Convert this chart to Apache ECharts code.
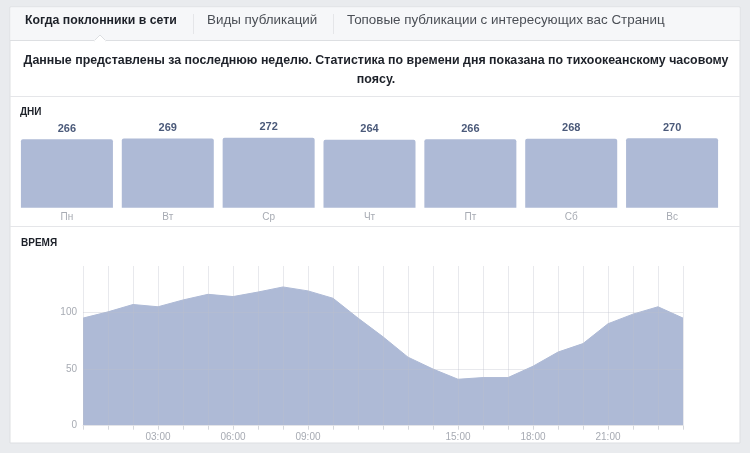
<!DOCTYPE html>
<html>
<head>
<meta charset="utf-8">
<script src="https://cdn.jsdelivr.net/npm/echarts@6/dist/echarts.min.js"></script>
<style>
html,body{margin:0;padding:0;background:#e9ebee;}
#c{width:750px;height:453px;}
</style>
</head>
<body>
<div id="c"></div>
<script>
// ---- data ----
var dayCategories = ['Пн', 'Вт', 'Ср', 'Чт', 'Пт', 'Сб', 'Вс'];
var dayValues = [266, 269, 272, 264, 266, 268, 270];

var hourCategories = ['00','01','02','03','04','05','06','07','08','09','10','11','12',
                      '13','14','15','16','17','18','19','20','21','22','23','24'];
var hourValues = [95, 100.5, 107, 105, 111, 116, 114, 118, 122.5, 119, 112.5, 95, 78.5,
                  60.5, 50, 41, 42.5, 42.5, 52.5, 65, 72.5, 90, 98.5, 105, 95];
var hourTickLabels = ['', '', '', '03:00', '', '', '06:00', '', '', '09:00', '', '', '',
                      '', '', '15:00', '', '', '18:00', '', '', '21:00', '', '', ''];
var yTickLabels = ['0', '50', '100'];

var tabs = ['Когда поклонники в сети', 'Виды публикаций', 'Топовые публикации с интересующих вас Страниц'];
var subtitle = 'Данные представлены за последнюю неделю. Статистика по времени дня показана по тихоокеанскому часовому\nпоясу.';

var FONT = '"Liberation Sans", Arial, Helvetica, sans-serif';
var BAR_COLOR = '#aebad6';
var GRID_LINE = 'rgba(188,193,204,0.35)';

var chart = echarts.init(document.getElementById('c'));

var option = {
  backgroundColor: '#e9ebee',
  animation: false,
  textStyle: { fontFamily: FONT },
  graphic: [
    // white panel
    { type: 'rect', z: -10, shape: { x: 10, y: 7, width: 730, height: 436 },
      style: { fill: '#ffffff', stroke: '#dddfe2', lineWidth: 1 } },
    // tab bar
    { type: 'rect', z: -9, shape: { x: 10.5, y: 7.5, width: 729, height: 33 },
      style: { fill: '#f6f7f9', stroke: null } },
    { type: 'line', z: -8, shape: { x1: 10, y1: 40.5, x2: 740, y2: 40.5 },
      style: { stroke: '#dddfe2', lineWidth: 1 } },
    // tab pointer
    { type: 'polygon', z: -7, shape: { points: [[94, 41], [100, 35], [106, 41]] },
      style: { fill: '#ffffff', stroke: '#dddfe2', lineWidth: 1 } },
    { type: 'rect', z: -6, shape: { x: 94.5, y: 40, width: 11, height: 2 },
      style: { fill: '#ffffff' } },
    // tab separators
    { type: 'line', z: -8, shape: { x1: 193.5, y1: 14, x2: 193.5, y2: 34 },
      style: { stroke: '#e5e6e9', lineWidth: 1 } },
    { type: 'line', z: -8, shape: { x1: 333.5, y1: 14, x2: 333.5, y2: 34 },
      style: { stroke: '#e5e6e9', lineWidth: 1 } },
    // tab texts
    { type: 'text', left: 25, top: 15,
      style: { text: tabs[0], font: 'bold 12.3px ' + FONT, fill: '#1d2129' } },
    { type: 'text', left: 207, top: 14,
      style: { text: tabs[1], font: '13.4px ' + FONT, fill: '#4b4f56' } },
    { type: 'text', left: 347, top: 14,
      style: { text: tabs[2], font: '13.4px ' + FONT, fill: '#4b4f56' } },
    // subtitle
    { type: 'text', x: 376, y: 51,
      style: { text: subtitle, font: 'bold 12.4px ' + FONT, fill: '#1d2129',
               align: 'center', lineHeight: 19 } },
    // dividers
    { type: 'line', z: -8, shape: { x1: 10, y1: 96.5, x2: 740, y2: 96.5 },
      style: { stroke: '#e5e6e9', lineWidth: 1 } },
    { type: 'line', z: -8, shape: { x1: 10, y1: 226.5, x2: 740, y2: 226.5 },
      style: { stroke: '#e5e6e9', lineWidth: 1 } },
    // section titles
    { type: 'text', left: 20, top: 107,
      style: { text: 'ДНИ', font: 'bold 10px ' + FONT, fill: '#1d2129' } },
    { type: 'text', left: 21, top: 238,
      style: { text: 'ВРЕМЯ', font: 'bold 10px ' + FONT, fill: '#1d2129' } }
  ],
  grid: [
    { left: 16.5, width: 706, top: 137.7, height: 70, containLabel: false },
    { left: 83, width: 600, top: 266, height: 159.7, containLabel: false }
  ],
  xAxis: [
    { type: 'category', gridIndex: 0, data: dayCategories,
      axisLine: { show: false }, axisTick: { show: false },
      axisLabel: { color: '#a7abb3', fontSize: 10, margin: 5, fontFamily: FONT } },
    { type: 'category', gridIndex: 1, data: hourCategories, boundaryGap: false, z: 5,
      axisLine: { show: true, lineStyle: { color: '#e3e4e8', width: 1 } },
      axisTick: { show: true, interval: 0, length: 4, lineStyle: { color: '#d6d8dc' } },
      splitLine: { show: true, interval: 0, lineStyle: { color: GRID_LINE, width: 1 } },
      axisLabel: { interval: 0, color: '#a7abb3', fontSize: 10, margin: 7, fontFamily: FONT,
        formatter: function (v, i) { return hourTickLabels[i]; } } }
  ],
  yAxis: [
    { type: 'value', gridIndex: 0, min: 0, max: 272, show: false },
    { type: 'value', gridIndex: 1, min: 0, max: 141, interval: 50, z: 5,
      axisLine: { show: false }, axisTick: { show: false },
      splitLine: { show: true, showMinLine: false, showMaxLine: false,
                   lineStyle: { color: GRID_LINE, width: 1 } },
      axisLabel: { color: '#a7abb3', fontSize: 10, margin: 6, fontFamily: FONT, showMaxLabel: false,
        formatter: function (v) { var i = [0, 50, 100].indexOf(v); return i >= 0 ? yTickLabels[i] : ''; } } }
  ],
  series: [
    { type: 'bar', xAxisIndex: 0, yAxisIndex: 0, data: dayValues, barWidth: 92,
      itemStyle: { color: BAR_COLOR, borderRadius: [2, 2, 0, 0] },
      label: { show: true, position: 'top', distance: 5, color: '#4b5a7a',
               fontSize: 11, fontWeight: 'bold', fontFamily: FONT } },
    { type: 'line', xAxisIndex: 1, yAxisIndex: 1, data: hourValues, symbol: 'none', z: 2,
      lineStyle: { width: 1, color: BAR_COLOR },
      areaStyle: { color: BAR_COLOR, opacity: 1 } }
  ]
};
chart.setOption(option);
</script>
</body>
</html>
